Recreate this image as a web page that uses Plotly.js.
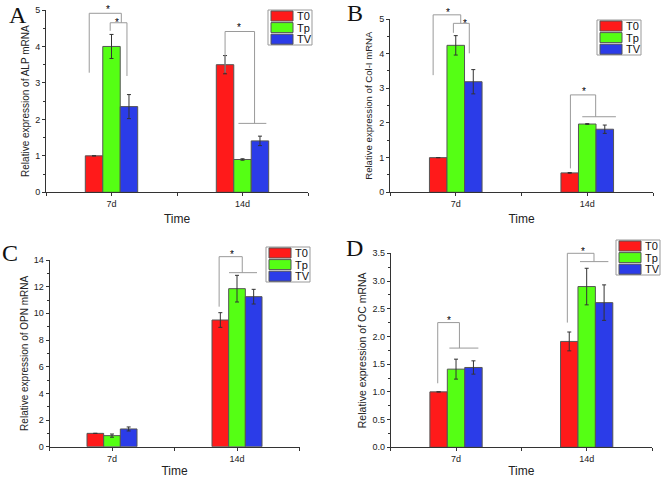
<!DOCTYPE html>
<html>
<head>
<meta charset="utf-8">
<script src="https://cdn.plot.ly/plotly-3.0.1.min.js"></script>
<style>html,body{margin:0;padding:0;background:#fff;}#chart{width:661px;height:478px;}</style>
</head>
<body>
<div id="chart"></div>
<script>
// ---- data ----
const categories = ['7d', '14d'];
const groups = ['T0', 'Tp', 'TV'];
const tickLabels = ['', '7d', '', '14d', ''];

const alpT0 = [1.0, 3.5],   alpT0Err = [0, 0.25];
const alpTp = [4.0, 0.9],   alpTpErr = [0.33, 0.02];
const alpTV = [2.35, 1.41], alpTVErr = [0.33, 0.13];

const colT0 = [1.0, 0.56],  colT0Err = [0, 0.01];
const colTp = [4.24, 1.97], colTpErr = [0.28, 0.01];
const colTV = [3.19, 1.82], colTVErr = [0.35, 0.12];

const opnT0 = [1.0, 9.5],   opnT0Err = [0, 0.55];
const opnTp = [0.83, 11.85], opnTpErr = [0.12, 1.0];
const opnTV = [1.33, 11.25], opnTVErr = [0.15, 0.55];

const ocT0 = [1.0, 1.91],   ocT0Err = [0, 0.17];
const ocTp = [1.41, 2.90],  ocTpErr = [0.18, 0.33];
const ocTV = [1.44, 2.61],  ocTVErr = [0.12, 0.32];

const panelLetters = ['A', 'B', 'C', 'D'];
const yTitles = ['Relative expression of ALP mRNA', 'Relative expression of Col-I mRNA',
                 'Relative expression of OPN mRNA', 'Relative expression of OC mRNA'];

// ---- styling ----
const colors = ['#ff1a1a', '#55ff14', '#2b3ce8'];
const W = 661, H = 478;
const px = v => v / W, py = v => 1 - v / H;
const SANS = 'Arial, "Liberation Sans", sans-serif';

const panels = [
  {vals: [[alpT0, alpT0Err], [alpTp, alpTpErr], [alpTV, alpTVErr]], xd: [46, 308], yd: [10, 192.3], ymax: 5, dtick: 1, minor: 0.5, fmt: '', leg: [268, 10], tfs: 10, tso: 3},
  {vals: [[colT0, colT0Err], [colTp, colTpErr], [colTV, colTVErr]], xd: [390, 653], yd: [19, 192.3], ymax: 5, dtick: 1, minor: 0.5, fmt: '', leg: [597, 20], tfs: 9.6, tso: 4},
  {vals: [[opnT0, opnT0Err], [opnTp, opnTpErr], [opnTV, opnTVErr]], xd: [49.5, 299.5], yd: [260, 446.7], ymax: 14, dtick: 2, minor: 1, fmt: '', leg: [266, 247], tfs: 10, tso: 3},
  {vals: [[ocT0, ocT0Err], [ocTp, ocTpErr], [ocTV, ocTVErr]], xd: [390.7, 652], yd: [253.3, 447.3], ymax: 3.5, dtick: 0.5, minor: 0.25, fmt: '.1f', leg: [616, 240], tfs: 10.5, tso: 3}
];
const letterPos = [[18, 15], [355, 13], [10, 253], [354, 248]];

// significance brackets: [x1, x2, yTop, yLeftBottom, yRightBottom], hlines: [y, x1, x2], stars: [x, y]
const brackets = [
  {b: [[-0.17, 0.075, 4.91, 3.28, 4.65], [-0.01, 0.118, 4.65, 4.43, 3.19], [0.867, 1.092, 4.41, 3.28, 1.89]],
   h: [[1.89, 0.969, 1.182]], s: [[-0.023, 5.09], [0.04, 4.74], [0.972, 4.59]]},
  {b: [[-0.172, 0.038, 5.12, 3.38, 4.875], [-0.018, 0.103, 4.875, 4.6, 4.01], [0.872, 1.064, 2.81, 0.69, 2.18]],
   h: [[2.18, 0.962, 1.218]], s: [[-0.056, 5.26], [0.072, 4.97], [0.974, 3.0]]},
  {b: [[0.857, 1.042, 14.25, 10.5, 13.05]],
   h: [[13.05, 0.936, 1.16]], s: [[0.96, 14.6]]},
  {b: [[-0.14, 0.026, 2.25, 1.155, 1.79], [0.852, 1.056, 3.5, 2.25, 3.35]],
   h: [[1.79, -0.051, 0.171], [3.35, 0.949, 1.166]], s: [[-0.051, 2.35], [0.974, 3.59]]}
];

const xIdx = categories.map((_, i) => i);
const traces = [];
const layout = {
  width: W, height: H, margin: {l: 0, r: 0, t: 0, b: 0},
  paper_bgcolor: '#fff', plot_bgcolor: '#fff',
  barmode: 'group', bargap: 0.6, bargroupgap: 0,
  showlegend: false,
  font: {family: SANS, color: '#222'},
  shapes: [], annotations: []
};

panels.forEach((p, k) => {
  const n = k === 0 ? '' : String(k + 1);
  const xa = 'x' + n, ya = 'y' + n;
  p.vals.forEach((pair, g) => {
    traces.push({
      type: 'bar', x: xIdx, y: pair[0], name: groups[g], xaxis: xa, yaxis: ya,
      offsetgroup: groups[g],
      marker: {color: colors[g], line: {color: '#555', width: 1}},
      error_y: {type: 'data', array: pair[1], visible: true, color: '#333', thickness: 1, width: 2}
    });
  });
  const xdom = [px(p.xd[0]), px(p.xd[1])];
  const ydom = [py(p.yd[1]), py(p.yd[0])];
  layout['xaxis' + n] = {
    domain: xdom, anchor: ya, range: [-0.5, 1.5], tickmode: 'array',
    tickvals: [-0.5, 0, 0.5, 1, 1.5], ticktext: tickLabels,
    showline: true, linecolor: '#333', linewidth: 1, ticks: 'outside', ticklen: 3, tickcolor: '#333',
    showgrid: false, zeroline: false, tickfont: {family: SANS, size: 9, color: '#222'},
    title: {text: 'Time', font: {family: SANS, size: 12, color: '#222'}, standoff: 6}, automargin: false
  };
  layout['yaxis' + n] = {
    domain: ydom, anchor: xa, range: [0, p.ymax], dtick: p.dtick, tick0: 0, tickformat: p.fmt,
    showline: true, linecolor: '#333', linewidth: 1, ticks: 'outside', ticklen: 3, tickcolor: '#333',
    minor: {dtick: p.minor, ticks: 'outside', ticklen: 2, tickcolor: '#333', showgrid: false},
    showgrid: false, zeroline: false, tickfont: {family: SANS, size: 9, color: '#222'},
    title: {text: yTitles[k], font: {family: SANS, size: p.tfs, color: '#222'}, standoff: p.tso}, automargin: false
  };

  // conversion helpers for bracket drawing
  const fx = v => xdom[0] + (v + 0.5) / 2 * (xdom[1] - xdom[0]);
  const fy = v => ydom[0] + v / p.ymax * (ydom[1] - ydom[0]);
  const line = {color: '#9a9a9a', width: 1};
  brackets[k].b.forEach(b => {
    layout.shapes.push({type: 'path', xref: 'paper', yref: 'paper', line,
      path: `M${fx(b[0])},${fy(b[3])} L${fx(b[0])},${fy(b[2])} L${fx(b[1])},${fy(b[2])} L${fx(b[1])},${fy(b[4])}`});
  });
  brackets[k].h.forEach(h => {
    layout.shapes.push({type: 'line', xref: 'paper', yref: 'paper', line,
      x0: fx(h[1]), x1: fx(h[2]), y0: fy(h[0]), y1: fy(h[0])});
  });
  brackets[k].s.forEach(s => {
    layout.annotations.push({xref: 'paper', yref: 'paper', x: fx(s[0]), y: fy(s[1]),
      text: '*', showarrow: false, xanchor: 'center', yanchor: 'middle', yshift: -3,
      font: {family: SANS, size: 10, color: '#000'}});
  });

  // legend box
  const L = p.leg;
  layout.shapes.push({type: 'rect', xref: 'paper', yref: 'paper',
    x0: px(L[0]), x1: px(L[0] + 44), y0: py(L[1]), y1: py(L[1] + 35),
    line: {color: '#999', width: 1}, fillcolor: '#fff'});
  groups.forEach((gname, g) => {
    const cy = L[1] + 6 + 11.6 * g;
    layout.shapes.push({type: 'rect', xref: 'paper', yref: 'paper',
      x0: px(L[0] + 3), x1: px(L[0] + 25), y0: py(cy - 5), y1: py(cy + 5),
      line: {color: '#555', width: 1}, fillcolor: colors[g]});
    layout.annotations.push({xref: 'paper', yref: 'paper', x: px(L[0] + 27), y: py(cy),
      text: gname, showarrow: false, xanchor: 'left', yanchor: 'middle',
      font: {family: SANS, size: 11, color: '#111'}});
  });

  layout.annotations.push({xref: 'paper', yref: 'paper', x: px(letterPos[k][0]), y: py(letterPos[k][1]),
    text: panelLetters[k], showarrow: false, xanchor: 'center', yanchor: 'middle',
    font: {family: '"Liberation Serif", "Times New Roman", serif', size: 24, color: '#111'}});
});

Plotly.newPlot('chart', traces, layout, {staticPlot: true, displayModeBar: false});
</script>
</body>
</html>
